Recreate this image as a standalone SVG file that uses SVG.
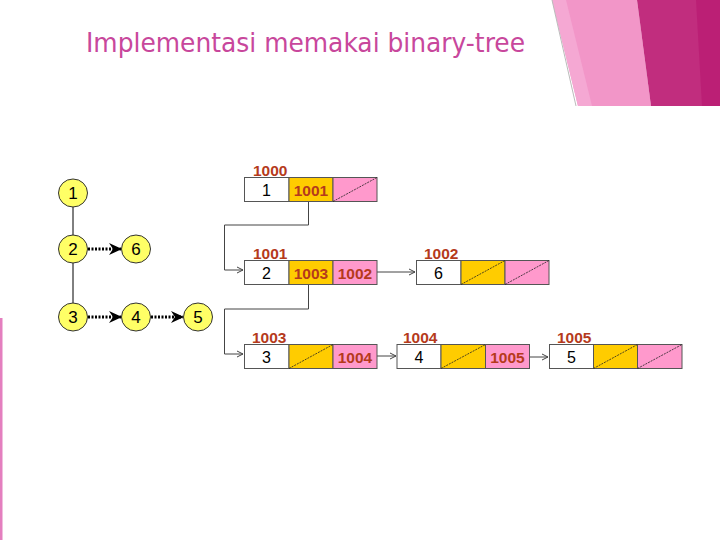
<svg xmlns="http://www.w3.org/2000/svg" width="720" height="540" viewBox="0 0 720 540">
<defs>
<style>
.title{font-family:"DejaVu Sans Condensed","DejaVu Sans",sans-serif;font-size:27px;fill:#c8479c}
.lbl{font-family:"Liberation Sans",Arial,sans-serif;font-size:15.5px;font-weight:bold;fill:#b53a1c}
.val{font-family:"Liberation Sans",Arial,sans-serif;font-size:16px;fill:#000;text-anchor:middle}
.ptr{font-family:"Liberation Sans",Arial,sans-serif;font-size:15.5px;font-weight:bold;fill:#b53a1c;text-anchor:middle}
.w{fill:#fff;stroke:#555;stroke-width:1}
.y{fill:#ffcc00;stroke:#555;stroke-width:1}
.p{fill:#ff99cc;stroke:#555;stroke-width:1}
.nil{stroke:#222;stroke-width:0.8;stroke-dasharray:2 1}
.con{fill:none;stroke:#444;stroke-width:1}
.node{fill:#ffff66;stroke:#333;stroke-width:1}
.nt{font-family:"Liberation Sans",Arial,sans-serif;font-size:17px;fill:#000;text-anchor:middle}
.edge{stroke:#000;stroke-width:1}
.dot{stroke:#000;stroke-width:3;stroke-dasharray:2 1.5;fill:none}
</style>
<marker id="open" markerWidth="8" markerHeight="8" refX="7" refY="4" orient="auto" markerUnits="userSpaceOnUse">
<path d="M1,1 L7,4 L1,7" fill="none" stroke="#444" stroke-width="1"/>
</marker>
<marker id="solid" markerWidth="14" markerHeight="14" refX="12" refY="7" orient="auto" markerUnits="userSpaceOnUse">
<path d="M0,1 L13,7 L0,13 L4,7 Z" fill="#000"/>
</marker>
</defs>
<rect width="720" height="540" fill="#fff"/>

<g id="decor">
<polygon points="552,0 637,0 651,106 578,106" fill="#f296c8"/>
<polygon points="552,0 566,0 592,106 578,106" fill="#f5a8d3"/>
<polygon points="637,0 720,0 720,106 651,106" fill="#c12d7e"/>
<polygon points="696,0 720,0 720,106 702,106" fill="#bb1f75"/>
<line x1="552" y1="0" x2="576" y2="106" stroke="#bbb" stroke-width="1"/>
<rect x="0" y="318" width="2.5" height="222" fill="#e47fbf"/>
</g>

<text class="title" x="86" y="52" textLength="439" lengthAdjust="spacingAndGlyphs">Implementasi memakai binary-tree</text>

<g id="tree-edges">
<line class="edge" x1="73" y1="206" x2="73" y2="236"/>
<line class="edge" x1="73" y1="263" x2="73" y2="304"/>
<line class="dot" x1="88" y1="249" x2="121" y2="249" marker-end="url(#solid)"/>
<line class="dot" x1="88" y1="317" x2="121" y2="317" marker-end="url(#solid)"/>
<line class="dot" x1="151" y1="317" x2="183" y2="317" marker-end="url(#solid)"/>
</g>
<g id="t1"><ellipse class="node" cx="73" cy="193" rx="14.5" ry="14"/><text class="nt" x="73" y="199">1</text></g>
<g id="t2"><ellipse class="node" cx="73" cy="249" rx="14.5" ry="14"/><text class="nt" x="73" y="255">2</text></g>
<g id="t6"><ellipse class="node" cx="136" cy="249" rx="14.5" ry="14"/><text class="nt" x="136" y="255">6</text></g>
<g id="t3"><ellipse class="node" cx="73" cy="317" rx="14.5" ry="14"/><text class="nt" x="73" y="323">3</text></g>
<g id="t4"><ellipse class="node" cx="136" cy="317" rx="14.5" ry="14"/><text class="nt" x="136" y="323">4</text></g>
<g id="t5"><ellipse class="node" cx="198" cy="317" rx="14.5" ry="14"/><text class="nt" x="198" y="323">5</text></g>

<g id="connectors">
<polyline class="con" points="308.5,201 308.5,225 224.5,225 224.5,270 243,270" marker-end="url(#open)"/>
<polyline class="con" points="308.5,284 308.5,309 224.5,309 224.5,354 243,354" marker-end="url(#open)"/>
<line class="con" x1="372" y1="272" x2="415" y2="272" marker-end="url(#open)"/>
<line class="con" x1="373" y1="356" x2="396" y2="356" marker-end="url(#open)"/>
<line class="con" x1="525" y1="357" x2="548" y2="357" marker-end="url(#open)"/>
</g>

<g id="n1000">
<text class="lbl" x="253" y="176">1000</text>
<rect class="w" x="244.5" y="177.5" width="44.5" height="24"/>
<rect class="y" x="289" y="177.5" width="44" height="24"/>
<rect class="p" x="333" y="177.5" width="44" height="24"/>
<line class="nil" x1="333" y1="201.5" x2="377" y2="177.5"/>
<text class="val" x="266.5" y="195.5">1</text>
<text class="ptr" x="311" y="195.5">1001</text>
</g>

<g id="n1001">
<text class="lbl" x="253" y="259">1001</text>
<rect class="w" x="244.5" y="260.5" width="44.5" height="24"/>
<rect class="y" x="289" y="260.5" width="44" height="24"/>
<rect class="p" x="333" y="260.5" width="44" height="24"/>
<text class="val" x="266.5" y="278.5">2</text>
<text class="ptr" x="311" y="278.5">1003</text>
<text class="ptr" x="355" y="278.5">1002</text>
</g>

<g id="n1002">
<text class="lbl" x="424" y="259">1002</text>
<rect class="w" x="416.5" y="260.5" width="44.5" height="24"/>
<rect class="y" x="461" y="260.5" width="44" height="24"/>
<rect class="p" x="505" y="260.5" width="44" height="24"/>
<line class="nil" x1="461" y1="284.5" x2="505" y2="260.5"/>
<line class="nil" x1="505" y1="284.5" x2="549" y2="260.5"/>
<text class="val" x="438.5" y="278.5">6</text>
</g>

<g id="n1003">
<text class="lbl" x="252" y="343">1003</text>
<rect class="w" x="244.5" y="344.5" width="44.5" height="24"/>
<rect class="y" x="289" y="344.5" width="44" height="24"/>
<rect class="p" x="333" y="344.5" width="44" height="24"/>
<line class="nil" x1="289" y1="368.5" x2="333" y2="344.5"/>
<text class="val" x="266.5" y="362.5">3</text>
<text class="ptr" x="355" y="362.5">1004</text>
</g>

<g id="n1004">
<text class="lbl" x="403" y="343">1004</text>
<rect class="w" x="397" y="344.5" width="44" height="24"/>
<rect class="y" x="441" y="344.5" width="44.5" height="24"/>
<rect class="p" x="485.5" y="344.5" width="44" height="24"/>
<line class="nil" x1="441" y1="368.5" x2="485.5" y2="344.5"/>
<text class="val" x="419" y="362.5">4</text>
<text class="ptr" x="507.5" y="362.5">1005</text>
</g>

<g id="n1005">
<text class="lbl" x="557" y="343">1005</text>
<rect class="w" x="549.5" y="344.5" width="44" height="24"/>
<rect class="y" x="593.5" y="344.5" width="44" height="24"/>
<rect class="p" x="637.5" y="344.5" width="44.5" height="24"/>
<line class="nil" x1="593.5" y1="368.5" x2="637.5" y2="344.5"/>
<line class="nil" x1="637.5" y1="368.5" x2="682" y2="344.5"/>
<text class="val" x="571.5" y="362.5">5</text>
</g>
</svg>
